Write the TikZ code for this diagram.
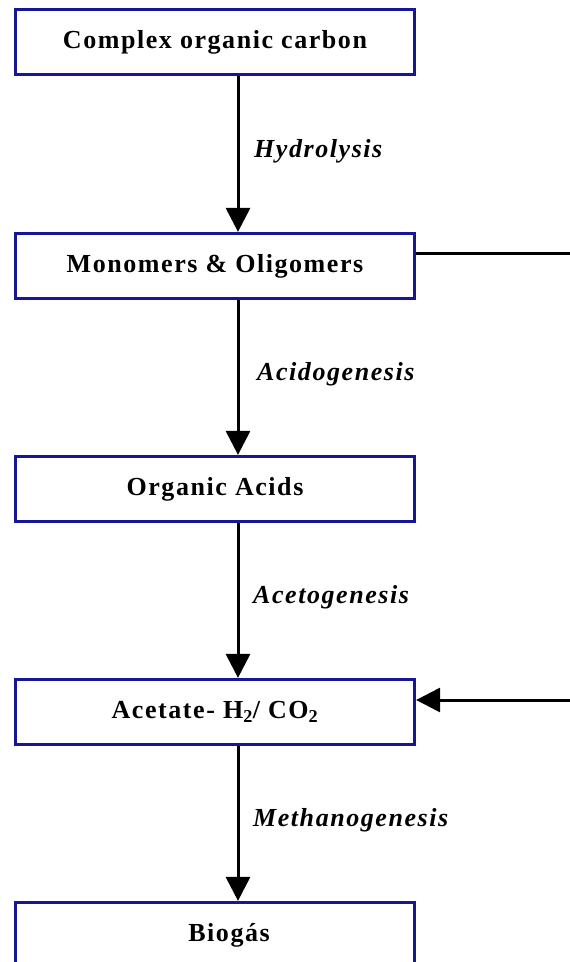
\documentclass[tikz,border=0pt]{standalone}
\usepackage{fontspec}
\setmainfont{Liberation Serif}[LetterSpace=6]
\usetikzlibrary{arrows.meta}
\definecolor{boxblue}{RGB}{22,22,150}
\tikzset{
  stagebox/.style={draw=boxblue, line width=3.2pt, fill=white, minimum width=399pt, minimum height=65pt, inner sep=0pt, font=\fontsize{26}{30}\selectfont\bfseries},
  flow/.style={line width=3pt, -{Triangle[width=24pt,length=24pt]}},
  feed/.style={line width=3pt},
  proc/.style={anchor=west, inner sep=0pt, font=\fontsize{26}{30}\selectfont\bfseries\itshape}
}
\begin{document}
\begin{tikzpicture}[x=1pt,y=-1pt]
\useasboundingbox (0,0) rectangle (570,962);
\clip (0,0) rectangle (570,962);
\fill[white] (0,0) rectangle (570,962);
\node[stagebox] (b1) at (215,42) {Complex organic carbon};
\node[stagebox] (b2) at (215,266) {Monomers \& Oligomers};
\node[stagebox] (b3) at (215,489) {Organic Acids};
\node[stagebox] (b4) at (215,712) {Acetate- H\textsubscript{2}/ CO\textsubscript{2}};
\node[stagebox] (b5) at (215,935) {\hspace*{28pt}Biogás};
\draw[flow] ([xshift=23pt]b1.south) -- ([xshift=23pt]b2.north);
\draw[flow] ([xshift=23pt]b2.south) -- ([xshift=23pt]b3.north);
\draw[flow] ([xshift=23pt]b3.south) -- ([xshift=23pt]b4.north);
\draw[flow] ([xshift=23pt]b4.south) -- ([xshift=23pt]b5.north);
\node[proc] (l1) at (254,151) {Hydrolysis};
\node[proc] (l2) at (257,374) {Acidogenesis};
\node[proc] (l3) at (253,597) {Acetogenesis};
\node[proc] (l4) at (253,820) {Methanogenesis};
\coordinate (out2) at (570,253);
\coordinate (in4) at (570,700);
\draw[feed] ([yshift=13pt]b2.east) -- (out2);
\draw[flow] (in4) -- ([yshift=12pt]b4.east);
\end{tikzpicture}
\end{document}
